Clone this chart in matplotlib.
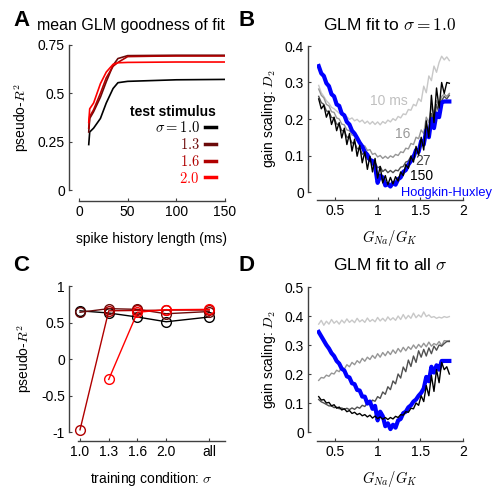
import numpy as np
import matplotlib
matplotlib.use("Agg")
from matplotlib import pyplot as plt

plt.rcParams['font.family'] = ['Liberation Sans', 'DejaVu Sans']
plt.rcParams['mathtext.fontset'] = 'cm'

# Painel A: pseudo-R2 vs comprimento do historico ----------------------------->>>>>
hist_len = [10, 11, 15, 22, 28, 35, 40, 50, 75, 100, 150]
r2_s10 = [0.235, 0.300, 0.320, 0.370, 0.450, 0.525, 0.555, 0.562, 0.566, 0.570, 0.572]
r2_s13 = [0.300, 0.370, 0.405, 0.480, 0.560, 0.645, 0.680, 0.695, 0.696, 0.697, 0.697]
r2_s16 = [0.320, 0.380, 0.415, 0.500, 0.580, 0.640, 0.660, 0.690, 0.692, 0.693, 0.693]
r2_s20 = [0.350, 0.420, 0.450, 0.550, 0.610, 0.650, 0.658, 0.660, 0.661, 0.662, 0.662]
sigma_labels = ['$\\sigma = 1.0$', '$1.3$', '$1.6$', '$2.0$']
sigma_colors = ['#000000', '#6b0a0a', '#b00000', '#ff0000']

# Painel C: condicao de treino ----------------------------->>>>>
train_pos = [1, 2, 3, 4, 5.5]
train_labels = ['1.0', '1.3', '1.6', '2.0', 'all']
c_s10 = [0.66, 0.63, 0.575, 0.51, 0.575]
c_s13 = [0.64, 0.69, 0.68, 0.62, 0.65]
c_s16 = [-0.97, 0.66, 0.665, 0.67, 0.67]
c_s20 = [np.nan, -0.28, 0.64, 0.675, 0.68]

# Paineis B e D: G_Na/G_K ----------------------------->>>>>
g_ratio = [0.31, 0.34, 0.37, 0.40, 0.43, 0.46, 0.49, 0.52, 0.55, 0.58, 0.61, 0.64, 0.67,
           0.70, 0.73, 0.76, 0.79, 0.82, 0.85, 0.88, 0.91, 0.94, 0.97, 1.00, 1.03, 1.06,
           1.09, 1.12, 1.15, 1.18, 1.21, 1.24, 1.27, 1.30, 1.33, 1.36, 1.39, 1.42, 1.45,
           1.48, 1.51, 1.54, 1.57, 1.60, 1.63, 1.66, 1.69, 1.72, 1.75, 1.78, 1.81, 1.84]

b_10ms = [0.292, 0.272, 0.262, 0.250, 0.243, 0.232, 0.228, 0.222, 0.216, 0.214, 0.207, 0.206, 0.199,
          0.203, 0.195, 0.199, 0.192, 0.197, 0.188, 0.194, 0.186, 0.193, 0.185, 0.192, 0.184, 0.193,
          0.188, 0.197, 0.192, 0.201, 0.196, 0.207, 0.203, 0.214, 0.212, 0.226, 0.224, 0.240, 0.236,
          0.256, 0.248, 0.290, 0.272, 0.318, 0.305, 0.345, 0.328, 0.355, 0.372, 0.362, 0.370, 0.360]
b_16ms = [0.282, 0.265, 0.258, 0.240, 0.236, 0.220, 0.218, 0.203, 0.200, 0.186, 0.184, 0.170, 0.168,
          0.156, 0.154, 0.141, 0.140, 0.127, 0.126, 0.114, 0.116, 0.103, 0.106, 0.096, 0.100, 0.092,
          0.098, 0.092, 0.099, 0.095, 0.103, 0.100, 0.110, 0.108, 0.120, 0.118, 0.133, 0.130, 0.150,
          0.146, 0.170, 0.160, 0.205, 0.190, 0.235, 0.215, 0.250, 0.235, 0.262, 0.268, 0.262, 0.270]
b_27ms = [0.262, 0.245, 0.240, 0.222, 0.220, 0.204, 0.203, 0.186, 0.185, 0.168, 0.168, 0.150, 0.151,
          0.134, 0.136, 0.118, 0.121, 0.103, 0.108, 0.089, 0.095, 0.075, 0.082, 0.066, 0.070, 0.056,
          0.062, 0.053, 0.059, 0.053, 0.060, 0.058, 0.068, 0.070, 0.082, 0.085, 0.098, 0.102, 0.118,
          0.116, 0.140, 0.128, 0.180, 0.160, 0.215, 0.185, 0.240, 0.215, 0.250, 0.262, 0.255, 0.265]
b_150ms = [0.255, 0.228, 0.238, 0.205, 0.222, 0.185, 0.205, 0.168, 0.190, 0.148, 0.175, 0.130, 0.160,
           0.112, 0.145, 0.098, 0.128, 0.080, 0.110, 0.062, 0.098, 0.055, 0.092, 0.038, 0.070, 0.025,
           0.045, 0.020, 0.040, 0.022, 0.042, 0.030, 0.055, 0.045, 0.075, 0.065, 0.098, 0.082, 0.125,
           0.100, 0.150, 0.115, 0.195, 0.150, 0.265, 0.190, 0.285, 0.230, 0.300, 0.270, 0.300, 0.298]
b_hh = [0.345, 0.325, 0.318, 0.298, 0.290, 0.268, 0.262, 0.240, 0.236, 0.215, 0.210, 0.192, 0.185,
        0.168, 0.160, 0.148, 0.135, 0.125, 0.110, 0.102, 0.088, 0.085, 0.070, 0.025, 0.045, 0.040,
        0.018, 0.022, 0.015, 0.025, 0.020, 0.035, 0.040, 0.055, 0.060, 0.075, 0.085, 0.095, 0.115,
        0.110, 0.140, 0.130, 0.170, 0.150, 0.200, 0.175, 0.215, 0.205, 0.245, 0.248, 0.248, 0.248]

d_10ms = [0.372, 0.385, 0.368, 0.382, 0.372, 0.388, 0.375, 0.383, 0.372, 0.386, 0.376, 0.390, 0.378,
          0.386, 0.377, 0.392, 0.380, 0.387, 0.378, 0.393, 0.381, 0.388, 0.380, 0.395, 0.383, 0.392,
          0.382, 0.397, 0.386, 0.394, 0.385, 0.400, 0.388, 0.405, 0.390, 0.402, 0.392, 0.410, 0.394,
          0.404, 0.396, 0.414, 0.398, 0.404, 0.395, 0.398, 0.392, 0.396, 0.393, 0.398, 0.395, 0.398]
d_16ms = [0.178, 0.188, 0.186, 0.196, 0.192, 0.203, 0.200, 0.213, 0.208, 0.224, 0.217, 0.232, 0.225,
          0.240, 0.232, 0.246, 0.238, 0.254, 0.244, 0.258, 0.250, 0.264, 0.254, 0.270, 0.258, 0.274,
          0.263, 0.278, 0.267, 0.283, 0.271, 0.288, 0.276, 0.292, 0.280, 0.294, 0.285, 0.300, 0.288,
          0.302, 0.292, 0.306, 0.294, 0.310, 0.296, 0.305, 0.300, 0.312, 0.298, 0.315, 0.314, 0.315]
d_27ms = [0.112, 0.104, 0.100, 0.095, 0.090, 0.090, 0.084, 0.086, 0.080, 0.083, 0.078, 0.082, 0.077,
          0.083, 0.078, 0.086, 0.082, 0.092, 0.088, 0.100, 0.096, 0.110, 0.106, 0.122, 0.116, 0.138,
          0.130, 0.156, 0.146, 0.176, 0.166, 0.200, 0.186, 0.224, 0.208, 0.248, 0.226, 0.262, 0.240,
          0.280, 0.258, 0.285, 0.262, 0.290, 0.270, 0.296, 0.282, 0.300, 0.296, 0.305, 0.312, 0.312]
d_150ms = [0.122, 0.110, 0.112, 0.100, 0.102, 0.090, 0.094, 0.082, 0.086, 0.076, 0.080, 0.070, 0.074,
           0.064, 0.068, 0.060, 0.064, 0.056, 0.060, 0.052, 0.058, 0.048, 0.055, 0.046, 0.052, 0.044,
           0.050, 0.043, 0.050, 0.045, 0.054, 0.050, 0.060, 0.058, 0.070, 0.068, 0.082, 0.080, 0.100,
           0.092, 0.125, 0.105, 0.160, 0.125, 0.195, 0.140, 0.215, 0.170, 0.240, 0.215, 0.225, 0.200]
d_hh = [0.345, 0.330, 0.315, 0.300, 0.288, 0.272, 0.262, 0.245, 0.236, 0.218, 0.212, 0.192, 0.188,
        0.168, 0.165, 0.145, 0.143, 0.122, 0.122, 0.098, 0.105, 0.080, 0.090, 0.040, 0.070, 0.055,
        0.020, 0.030, 0.010, 0.025, 0.015, 0.040, 0.045, 0.065, 0.070, 0.085, 0.092, 0.105, 0.112,
        0.125, 0.135, 0.150, 0.190, 0.175, 0.225, 0.205, 0.230, 0.215, 0.245, 0.245, 0.245, 0.245]

hist_colors = ['#c8c8c8', '#969696', '#505050', '#000000']
hh_color = '#0000ff'

W, H = 493, 490


def fx(px):
    return px / W


def fy(py):
    return 1 - py / H


def make_axes(fig, l, t, r, b):
    return fig.add_axes([fx(l), fy(b), fx(r) - fx(l), (b - t) / H])


def style(ax, left_off, bottom_off):
    for s in ['top', 'right']:
        ax.spines[s].set_visible(False)
    ax.spines['left'].set_position(('outward', left_off * 0.72))
    ax.spines['bottom'].set_position(('outward', bottom_off * 0.72))
    for s in ['left', 'bottom']:
        ax.spines[s].set_color('0.25')
        ax.spines[s].set_linewidth(1.0)
    ax.tick_params(direction='in', length=2.5, width=0.8, color='0.25', labelsize=10, pad=3)
    ax.patch.set_visible(False)


fig = plt.figure(figsize=(W / 100, H / 100), dpi=100)

# A ----------------------------->>>>>
axA = make_axes(fig, 79, 45, 225, 190)
style(axA, 10, 11)
for y, c in zip([r2_s10, r2_s13, r2_s16, r2_s20], sigma_colors):
    axA.plot(hist_len, y, color=c, lw=1.2, label='_')
axA.set_xlim(0, 150)
axA.set_ylim(0, 0.75)
axA.set_xticks([0, 50, 100, 150])
axA.set_yticks([0, 0.25, 0.5, 0.75])
axA.set_yticklabels(['0', '0.25', '0.5', '0.75'])
axA.set_xlabel('spike history length (ms)', fontsize=10, labelpad=9)
axA.set_ylabel('pseudo-$R^2$', fontsize=10, labelpad=5)
leg = axA.legend(axA.lines, sigma_labels, title='test stimulus', markerfirst=False, frameon=False,
                 handlelength=0.8, handletextpad=0.35, labelspacing=0.12, loc='lower right',
                 bbox_to_anchor=(1.0, -0.03), alignment='right', fontsize=10.5,
                 title_fontproperties={'size': 10, 'weight': 'bold'}, borderpad=0.1)
for h, t, c in zip(leg.legend_handles, leg.get_texts(), sigma_colors):
    h.set_linewidth(2.5)
    t.set_color(c)

# B ----------------------------->>>>>
axB = make_axes(fig, 317, 46, 463, 192)
style(axB, 9, 8)
for y, c in zip([b_10ms, b_16ms, b_27ms], hist_colors[:3]):
    axB.plot(g_ratio, y, color=c, lw=1.0)
axB.plot(g_ratio, b_hh, color=hh_color, lw=3.0)
axB.plot(g_ratio, b_150ms, color=hist_colors[3], lw=1.0)
axB.text(0.91, 0.248, '10 ms', color='#c0c0c0', fontsize=10, va='center')
axB.text(1.20, 0.160, '16', color='#999999', fontsize=10, va='center')
axB.text(1.44, 0.085, '27', color='#444444', fontsize=10, va='center')
axB.text(1.38, 0.045, '150', color='#000000', fontsize=10, va='center')
axB.text(1.27, -0.002, 'Hodgkin-Huxley', color=hh_color, fontsize=9.3, va='center', clip_on=False)

# C ----------------------------->>>>>
axC = make_axes(fig, 78, 286, 225, 432)
style(axC, 9, 9)
for y, c in zip([c_s10, c_s13, c_s16, c_s20], sigma_colors):
    axC.plot(train_pos, y, color=c, lw=1.0, marker='o', ms=7, mfc='none', mew=1.0, clip_on=False)
axC.set_xlim(0.93, 6.05)
axC.set_ylim(-1, 1)
axC.set_xticks(train_pos)
axC.set_xticklabels(train_labels)
axC.set_yticks([-1, -0.5, 0, 0.5, 1])
axC.set_yticklabels(['-1', '-0.5', '0', '0.5', '1'])
axC.set_xlabel('training condition: $\\sigma$', fontsize=10, labelpad=8)
axC.set_ylabel('pseudo-$R^2$', fontsize=10, labelpad=5)

# D ----------------------------->>>>>
axD = make_axes(fig, 317, 287, 463, 432)
style(axD, 9, 9)
for y, c in zip([d_10ms, d_16ms, d_27ms], hist_colors[:3]):
    axD.plot(g_ratio, y, color=c, lw=1.0)
axD.plot(g_ratio, d_hh, color=hh_color, lw=3.0)
axD.plot(g_ratio, d_150ms, color=hist_colors[3], lw=1.0)

for ax, top in [(axB, 0.4), (axD, 0.5)]:
    ax.set_xlim(0.29, 2.0)
    ax.set_ylim(0, top)
    ax.set_xticks([0.5, 1, 1.5, 2])
    ax.set_xticklabels(['0.5', '1', '1.5', '2'])
    ax.set_yticks(np.arange(0, top + 0.01, 0.1))
    ax.set_yticklabels(['0'] + ['%.1f' % v for v in np.arange(0.1, top + 0.01, 0.1)])
    ax.set_xlabel('$G_{Na}/G_K$', fontsize=10.5, labelpad=7)
    ax.set_ylabel('gain scaling: $D_2$', fontsize=10, labelpad=5)

# Titulos e letras ----------------------------->>>>>
fig.text(fx(37), fy(30), 'mean GLM goodness of fit', fontsize=11.5, va='baseline')
fig.text(fx(390), fy(30), 'GLM fit to $\\sigma = 1.0$', fontsize=12.5, va='baseline', ha='center')
fig.text(fx(390), fy(270), 'GLM fit to all $\\sigma$', fontsize=12.5, va='baseline', ha='center')
for letter, x, y in [('A', 13, 26), ('B', 238, 26), ('C', 13, 271), ('D', 238, 271)]:
    fig.text(fx(x), fy(y), letter, fontsize=16, fontweight='bold', va='baseline')

fig.savefig('out.png', dpi=100)
